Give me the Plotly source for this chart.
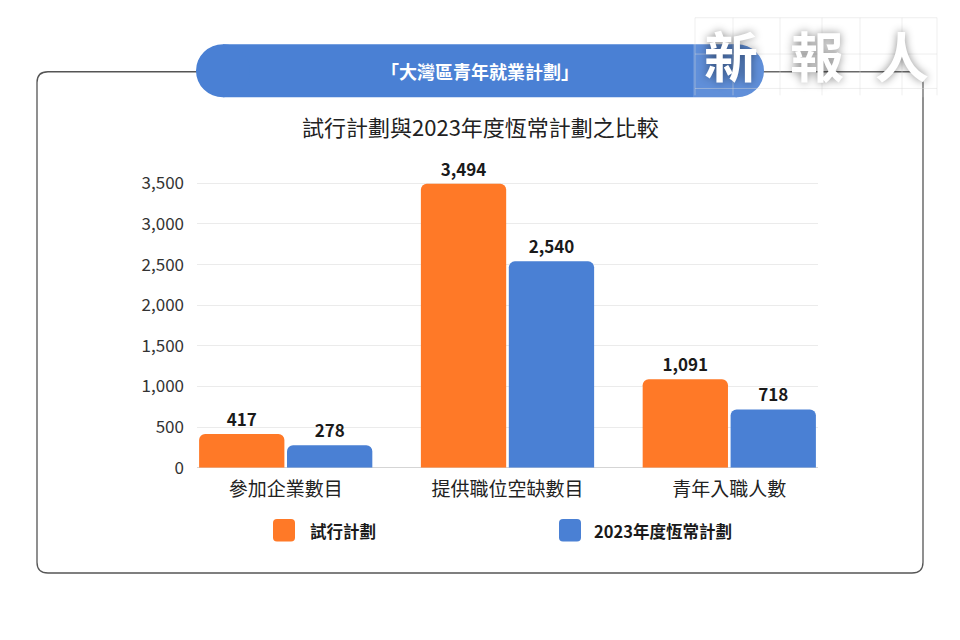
import plotly.graph_objects as go

# ---------------- data ----------------
categories = ["參加企業數目", "提供職位空缺數目", "青年入職人數"]
series_names = ["試行計劃", "2023年度恆常計劃"]
pilot_values = [417, 3494, 1091]
regular_values = [278, 2540, 718]
y_tick_values = [0, 500, 1000, 1500, 2000, 2500, 3000, 3500]
header_text = "「大灣區青年就業計劃」"
chart_title = "試行計劃與2023年度恆常計劃之比較"
logo_chars = ["新", "報", "人"]

# ---------------- style ----------------
ORANGE = "#FF7927"
BLUE = "#4A80D4"
FONT = "Noto Sans CJK TC"
W, H = 960, 640


def fx(px):
    return px / W


def fy(py):
    return 1 - py / H


def rounded_rect_path(x0, y0, x1, y1, r):
    pts = [
        f"M {fx(x0 + r)} {fy(y0)}",
        f"L {fx(x1 - r)} {fy(y0)}",
        f"Q {fx(x1)} {fy(y0)} {fx(x1)} {fy(y0 + r)}",
        f"L {fx(x1)} {fy(y1 - r)}",
        f"Q {fx(x1)} {fy(y1)} {fx(x1 - r)} {fy(y1)}",
        f"L {fx(x0 + r)} {fy(y1)}",
        f"Q {fx(x0)} {fy(y1)} {fx(x0)} {fy(y1 - r)}",
        f"L {fx(x0)} {fy(y0 + r)}",
        f"Q {fx(x0)} {fy(y0)} {fx(x0 + r)} {fy(y0)}",
        "Z",
    ]
    return " ".join(pts)


fig = go.Figure()

for name, vals, col in [(series_names[0], pilot_values, ORANGE),
                        (series_names[1], regular_values, BLUE)]:
    fig.add_trace(go.Bar(
        x=categories, y=vals, name=name,
        marker=dict(color=col, line=dict(width=0)),
        texttemplate="<b>%{y:,}</b>",
        textposition="outside",
        textfont=dict(family=FONT, size=17, color="#1a1a1a"),
        cliponaxis=False,
        showlegend=False,
    ))

shapes = []
# outer frame
shapes.append(dict(type="path", xref="paper", yref="paper",
                   path=rounded_rect_path(37, 73, 923, 583, 11),
                   line=dict(color="#555555", width=1.3), fillcolor="rgba(0,0,0,0)",
                   layer="below"))
# header pill
shapes.append(dict(type="rect", xref="paper", yref="paper",
                   x0=fx(223), x1=fx(737), y0=fy(99), y1=fy(45),
                   fillcolor=BLUE, line=dict(width=0), layer="below"))
for cx in (223, 737):
    shapes.append(dict(type="circle", xref="paper", yref="paper",
                       x0=fx(cx - 27), x1=fx(cx + 27), y0=fy(99), y1=fy(45),
                       fillcolor=BLUE, line=dict(width=0), layer="below"))
# soft light overlay behind the logo
shapes.append(dict(type="rect", xref="paper", yref="paper",
                   x0=fx(693), x1=fx(940), y0=fy(99), y1=fy(15),
                   fillcolor="rgba(255,255,255,0.12)", line=dict(width=0)))
# logo faint grid
for vx in (695, 733, 780, 822, 860, 902, 937):
    shapes.append(dict(type="line", xref="paper", yref="paper",
                       x0=fx(vx), x1=fx(vx), y0=fy(18), y1=fy(97),
                       line=dict(color="rgba(220,220,220,0.45)", width=1)))
for hy in (18, 55, 90):
    shapes.append(dict(type="line", xref="paper", yref="paper",
                       x0=fx(695), x1=fx(937), y0=fy(hy), y1=fy(hy),
                       line=dict(color="rgba(220,220,220,0.45)", width=1)))

# legend swatches
leg_swatches = [(273, ORANGE), (559, BLUE)]
for x0, col in leg_swatches:
    shapes.append(dict(type="path", xref="paper", yref="paper",
                       path=rounded_rect_path(x0, 528, x0 + 22, 551, 4),
                       fillcolor=col, line=dict(width=0)))

annotations = []


def ann(text, px, py, font, xanchor="center"):
    annotations.append(dict(text=text, x=fx(px), y=fy(py), xref="paper", yref="paper",
                            showarrow=False, xanchor=xanchor, yanchor="middle",
                            font=font))


ann(f"<b>{header_text}</b>", 480, 72, dict(family=FONT, size=18, color="white"))
ann(chart_title, 480, 128, dict(family=FONT, size=22, color="#222222"))
leg_text_x = [308, 592]
for name, tx in zip(series_names, leg_text_x):
    ann(f"<b>{name}</b>", tx, 540, dict(family=FONT, size=16.5, color="#1a1a1a"), "left")
for ch, cx in zip(logo_chars, (731, 817, 902)):
    ann(f"<b>{ch}</b>", cx, 55, dict(family=FONT, size=54, color="white",
                                     shadow="0px 0px 9px rgba(0,0,0,0.45)"))

fig.update_layout(
    width=W, height=H,
    margin=dict(l=0, r=0, t=0, b=0),
    paper_bgcolor="white", plot_bgcolor="white",
    barmode="group", bargap=0.207, bargroupgap=0.03, barcornerradius=6,
    shapes=shapes, annotations=annotations,
    font=dict(family=FONT, color="#333333"),
    xaxis=dict(domain=[fx(197), fx(818)], range=[-0.4, 2.4],
               showgrid=False, showline=False, ticks="",
               tickfont=dict(family=FONT, size=19, color="#222222"),
               ticklabelstandoff=8),
    yaxis=dict(domain=[fy(476), fy(170)], range=[0, 3700],
               tickvals=y_tick_values, tickformat=",",
               showgrid=True, gridcolor="#EBEBEB", gridwidth=1,
               zeroline=True, zerolinecolor="#D5D5D5", zerolinewidth=1,
               showline=False, ticks="",
               tickfont=dict(family=FONT, size=17, color="#333333"),
               ticklabelstandoff=12),
)

fig.write_html("out.html")
